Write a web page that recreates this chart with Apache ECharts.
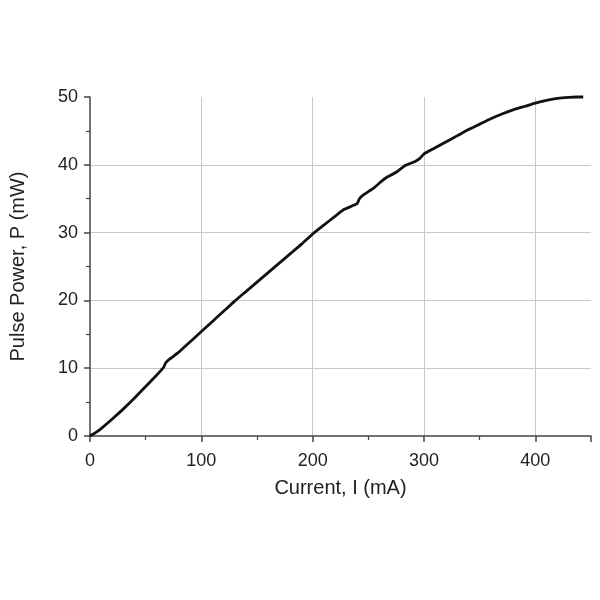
<!DOCTYPE html>
<html>
<head>
<meta charset="utf-8">
<script src="https://cdn.jsdelivr.net/npm/echarts@6/dist/echarts.min.js"></script>
<style>html,body{margin:0;padding:0;background:#fff}#c{width:600px;height:600px}</style>
</head>
<body>
<div id="c"></div>
<script>
var currentMA = [0,5,10,20,30,40,50,60,66,68,72,80,90,100,110,120,130,140,150,160,170,180,190,200,210,220,228,235,240,242,245,255,262,266,275,283,292,296,300,310,320,330,340,350,360,370,380,390,400,410,420,430,437,443];
var powerMW =   [0,0.5,1.1,2.5,4.0,5.6,7.3,9.0,10.1,10.8,11.4,12.4,13.9,15.4,16.9,18.4,19.9,21.3,22.7,24.1,25.5,26.9,28.3,29.8,31.1,32.4,33.4,33.9,34.3,35.0,35.5,36.6,37.6,38.1,38.9,39.9,40.5,40.9,41.6,42.5,43.4,44.3,45.2,46.0,46.8,47.5,48.1,48.6,49.1,49.5,49.8,49.95,50,50];
var xTicks = [0,100,200,300,400];
var yTicks = [0,10,20,30,40,50];

var data = currentMA.map(function(x,i){return [x, powerMW[i]];});
var chart = echarts.init(document.getElementById('c'));
var font = 'Liberation Sans, Arial, sans-serif';
chart.setOption({
  animation:false,
  grid:{left:89,right:9,top:97,bottom:164},
  xAxis:{
    type:'value', min:0, max:450, interval:100,
    name:'Current, I (mA)', nameLocation:'middle', nameGap:42,
    nameTextStyle:{fontFamily:font,fontSize:20,color:'#222'},
    axisLine:{show:true,lineStyle:{color:'#444',width:1.5}},
    axisTick:{show:true,length:6,lineStyle:{color:'#444',width:1.5}},
    minorTick:{show:true,splitNumber:2,length:4,lineStyle:{color:'#444',width:1.2}},
    axisLabel:{fontFamily:font,fontSize:18,color:'#222',margin:16,showMaxLabel:false,
      formatter:function(v){return xTicks.indexOf(v)>=0?String(v):'';}},
    splitLine:{show:true,showMinLine:false,showMaxLine:false,lineStyle:{color:'#c8c8c8',width:1}}
  },
  yAxis:{
    type:'value', min:0, max:50, interval:10,
    name:'Pulse Power, P (mW)', nameLocation:'middle', nameGap:62,
    nameTextStyle:{fontFamily:font,fontSize:20,color:'#222'},
    axisLine:{show:true,lineStyle:{color:'#444',width:1.5}},
    axisTick:{show:true,length:6,lineStyle:{color:'#444',width:1.5}},
    minorTick:{show:true,splitNumber:2,length:4,lineStyle:{color:'#444',width:1.2}},
    axisLabel:{fontFamily:font,fontSize:18,color:'#222',margin:12,
      formatter:function(v){return yTicks.indexOf(v)>=0?String(v):'';}},
    splitLine:{show:true,showMinLine:false,showMaxLine:false,lineStyle:{color:'#c8c8c8',width:1}}
  },
  series:[{
    type:'line', data:data, showSymbol:false, smooth:0.15,
    lineStyle:{color:'#111',width:2.8}, clip:false
  }]
});
</script>
</body>
</html>
